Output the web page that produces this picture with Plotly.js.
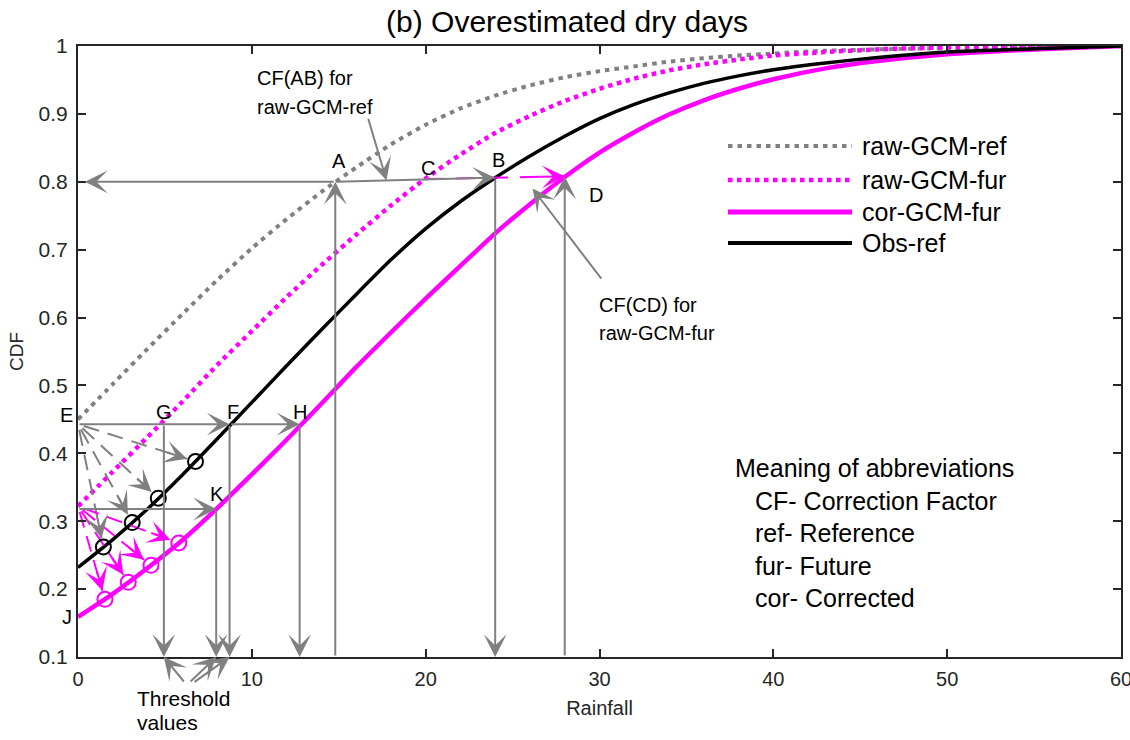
<!DOCTYPE html>
<html>
<head>
<meta charset="utf-8">
<script src="https://cdn.plot.ly/plotly-3.0.1.min.js"></script>
<style>html,body{margin:0;padding:0;background:#fff;}</style>
</head>
<body>
<div id="chart" style="width:1130px;height:740px;"></div>
<script>
// ---- CDF curves (rainfall grid, cumulative probability) ----
const rainfall  = [0, 2, 4, 6, 8, 10, 12, 14, 16, 18, 20, 22, 24, 26, 28, 30, 32, 34, 36, 38, 40, 43, 46, 50, 55, 60];
const rawGcmRef = [0.450, 0.502, 0.554, 0.605, 0.655, 0.702, 0.745, 0.785, 0.821, 0.855, 0.884, 0.908, 0.927, 0.942, 0.954, 0.963, 0.970, 0.977, 0.982, 0.986, 0.989, 0.993, 0.995, 0.997, 0.999, 1.000];
const rawGcmFur = [0.322, 0.373, 0.424, 0.476, 0.530, 0.580, 0.630, 0.677, 0.722, 0.765, 0.805, 0.840, 0.872, 0.897, 0.919, 0.937, 0.952, 0.964, 0.973, 0.980, 0.986, 0.991, 0.995, 0.998, 0.999, 1.000];
const corGcmFur = [0.159, 0.193, 0.231, 0.272, 0.319, 0.369, 0.420, 0.473, 0.527, 0.578, 0.628, 0.676, 0.724, 0.767, 0.807, 0.843, 0.873, 0.899, 0.920, 0.937, 0.951, 0.967, 0.978, 0.988, 0.995, 1.000];
const obsRef    = [0.232, 0.273, 0.318, 0.368, 0.421, 0.475, 0.529, 0.582, 0.634, 0.685, 0.731, 0.771, 0.806, 0.838, 0.867, 0.893, 0.914, 0.931, 0.945, 0.956, 0.965, 0.975, 0.983, 0.991, 0.996, 1.000];

// ---- labelled points of the mapping ----
const pointNames = ['A', 'B', 'C', 'D', 'E', 'F', 'G', 'H', 'K', 'J'];
const pointRain  = [14.8, 24.0, 19.9, 28.0, 0, 8.72, 4.94, 12.75, 7.95, 0];
const pointCdf   = [0.800, 0.806, 0.804, 0.808, 0.443, 0.443, 0.443, 0.443, 0.318, 0.159];
const fanStartCor = [0, 0.322];     // start of the raw-GCM-fur curve

// ---- threshold circles ----
const obsCircleRain = [1.46, 3.12, 4.62, 6.76];
const obsCircleCdf  = [0.262, 0.298, 0.334, 0.388];
const corCircleRain = [1.55, 2.89, 4.20, 5.80];
const corCircleCdf  = [0.185, 0.210, 0.235, 0.268];

// ---- text ----
const titleText = '(b) Overestimated dry days';
const xTitle = 'Rainfall';
const yTitle = 'CDF';
const seriesNames = ['raw-GCM-ref', 'raw-GCM-fur', 'cor-GCM-fur', 'Obs-ref'];
const cfAbLines = ['CF(AB) for', 'raw-GCM-ref'];
const cfCdLines = ['CF(CD) for', 'raw-GCM-fur'];
const thresholdLines = ['Threshold', 'values'];
const abbrevLines = ['Meaning of abbreviations', 'CF- Correction Factor', 'ref- Reference', 'fur- Future', 'cor- Corrected'];

// ---- layout geometry ----
const W = 1130, H = 740, M = {l: 78, r: 9, t: 46, b: 83};
const XR = [0, 60], YR = [0.1, 1];
const sx = (W - M.l - M.r) / (XR[1] - XR[0]);
const sy = (H - M.t - M.b) / (YR[1] - YR[0]);
const px = v => (v - M.l) / (W - M.l - M.r);        // page x -> paper
const py = v => (H - M.b - v) / (H - M.t - M.b);    // page y -> paper
// point d pixels back from (x1,y1) toward (x0,y0), in data units
function back(x0, y0, x1, y1, d) {
  const L = Math.hypot((x1 - x0) * sx, (y1 - y0) * sy);
  return [x1 - (x1 - x0) * d / L, y1 - (y1 - y0) * d / L];
}

const P = {};
pointNames.forEach((n, i) => { P[n] = [pointRain[i], pointCdf[i]]; });

const FONT = 'Liberation Sans, Arial, Helvetica, sans-serif';
const GRAY = '#808080', MAG = '#ff00ff';

// ---- traces ----
const traces = [
  {x: rainfall, y: rawGcmRef, mode: 'lines', name: seriesNames[0], line: {color: GRAY, width: 4, dash: '4.5px,5px', shape: 'spline', smoothing: 0.6}},
  {x: rainfall, y: rawGcmFur, mode: 'lines', name: seriesNames[1], line: {color: MAG, width: 4.5, dash: '4.5px,4.5px', shape: 'spline', smoothing: 0.6}},
  {x: rainfall, y: corGcmFur, mode: 'lines', name: seriesNames[2], line: {color: MAG, width: 4.5, shape: 'spline', smoothing: 0.6}},
  {x: rainfall, y: obsRef, mode: 'lines', name: seriesNames[3], line: {color: '#000', width: 3.5, shape: 'spline', smoothing: 0.6}}
];

const annotations = [];
const arrowBase = {text: '', showarrow: true, arrowhead: 3, arrowsize: 1.9, arrowwidth: 2, arrowcolor: GRAY,
                   xref: 'x', yref: 'y', axref: 'x', ayref: 'y', standoff: 0};
function arrow(head, tail, extra) {
  annotations.push(Object.assign({}, arrowBase, {x: head[0], y: head[1], ax: tail[0], ay: tail[1]}, extra || {}));
}
const axisAt = p => [p[0], YR[0]];

// solid grey mapping arrows
arrow([0.4, P.A[1]], P.A);            // A -> CDF axis
arrow(P.A, axisAt(P.A));              // rainfall axis -> A
arrow(P.B, P.A);                      // A -> B
arrow(axisAt(P.B), P.B);              // B -> rainfall axis
arrow(P.D, axisAt(P.D));              // rainfall axis -> D
arrow(P.F, P.E);                      // E -> F
arrow(P.H, P.F);                      // F -> H
arrow(axisAt(P.G), P.G);
arrow(axisAt(P.F), P.F);
arrow(axisAt(P.H), P.H);
arrow(P.K, [0, P.K[1]]);
arrow(axisAt(P.K), P.K);

// dashed C -> D (magenta)
traces.push({x: [P.C[0], P.D[0]], y: [P.C[1], P.D[1]], mode: 'lines', showlegend: false, hoverinfo: 'skip',
             line: {color: MAG, width: 2, dash: '20px,12px'}});
arrow(P.D, back(P.C[0], P.C[1], P.D[0], P.D[1], 26), {arrowcolor: MAG});

// dashed fans to the threshold circles
function fan(start, cx, cy, color) {
  cx.forEach((x, i) => {
    const tip = back(start[0], start[1], x, cy[i], 9);
    const s0 = back(x, cy[i], start[0], start[1], 6);
    traces.push({x: [s0[0], tip[0]], y: [s0[1], tip[1]], mode: 'lines', showlegend: false, hoverinfo: 'skip',
                 line: {color: color, width: 2, dash: '16px,9px'}});
    arrow(tip, back(start[0], start[1], tip[0], tip[1], 22), {arrowcolor: color});
  });
}
fan(P.E, obsCircleRain, obsCircleCdf, GRAY);
fan(fanStartCor, corCircleRain, corCircleCdf, MAG);

traces.push({x: obsCircleRain, y: obsCircleCdf, mode: 'markers', showlegend: false, hoverinfo: 'skip',
             marker: {symbol: 'circle-open', size: 15, color: '#000', line: {width: 2}}});
traces.push({x: corCircleRain, y: corCircleCdf, mode: 'markers', showlegend: false, hoverinfo: 'skip',
             marker: {symbol: 'circle-open', size: 15, color: MAG, line: {width: 2}}});

// pointers from the explanatory notes
arrow([17.75, 0.802], [16.67, 0.895]);
arrow([26.15, 0.790], [30.17, 0.655]);
const threshTailY = YR[0] - 26 / sy;
arrow(axisAt(P.G), [6.16, threshTailY]);
arrow(axisAt(P.K), [6.39, threshTailY]);
arrow(axisAt(P.F), [6.62, threshTailY]);

// point letters
const letterShift = {A: [4, 21], B: [3, 18], C: [4, 11], D: [31, -19], E: [-12, 9], F: [3, 12], G: [0, 12], H: [0, 12], K: [1, 15], J: [-11, 0]};
pointNames.forEach(n => {
  annotations.push({x: P[n][0], y: P[n][1], xref: 'x', yref: 'y', text: n, showarrow: false,
                    xshift: letterShift[n][0], yshift: letterShift[n][1], font: {family: FONT, size: 20, color: '#000'}});
});

// notes (page-pixel placement)
function note(text, x, y, size) {
  annotations.push({xref: 'paper', yref: 'paper', x: px(x), y: py(y), xanchor: 'left', yanchor: 'middle',
                    text: text, showarrow: false, font: {family: FONT, size: size, color: '#000'}});
}
note(cfAbLines[0], 255, 78, 20);
note(cfAbLines[1], 255, 107, 20);
note(cfCdLines[0], 597, 305, 20);
note(cfCdLines[1], 597, 333, 20);
note(thresholdLines[0], 135, 698, 21);
note(thresholdLines[1], 135, 723, 21);
note(abbrevLines[0], 733, 468, 25);
[1, 2, 3, 4].forEach(i => note(abbrevLines[i], 753, 468 + 32.5 * i, 25));

// legend
const legendRows = [146, 180, 212, 243];
const legendLines = [
  {color: GRAY, width: 4, dash: '4.5px,5px'},
  {color: MAG, width: 4.5, dash: '4.5px,4.5px'},
  {color: MAG, width: 5},
  {color: '#000', width: 4}
];
const shapes = [];
seriesNames.forEach((n, i) => {
  shapes.push({type: 'line', xref: 'paper', yref: 'paper', x0: px(728), x1: px(852), y0: py(legendRows[i]), y1: py(legendRows[i]), line: legendLines[i]});
  note(n, 860, legendRows[i], 25);
});

const axisCommon = {showgrid: false, zeroline: false, showline: true, linecolor: '#262626', linewidth: 2,
                    mirror: 'ticks', ticks: 'inside', ticklen: 8, tickwidth: 2, tickcolor: '#262626',
                    ticklabeloverflow: 'allow',
                    tickfont: {family: FONT, size: 20, color: '#262626'}};

const layout = {
  width: W, height: H, margin: M, paper_bgcolor: '#fff', plot_bgcolor: '#fff', showlegend: false,
  title: {text: titleText, x: 567 / W, xref: 'container', xanchor: 'center', y: 1 - 21 / H, yanchor: 'middle',
          font: {family: FONT, size: 30, color: '#000'}},
  xaxis: Object.assign({}, axisCommon, {range: XR, dtick: 10, tick0: 0, ticklabelstandoff: 3,
          title: {text: xTitle, standoff: 12, font: {family: FONT, size: 20, color: '#262626'}}}),
  yaxis: Object.assign({}, axisCommon, {range: YR, dtick: 0.1, tick0: 0.1, ticklabelstandoff: 4,
          tickfont: {family: FONT, size: 21, color: '#262626'},
          title: {text: yTitle, standoff: 10, font: {family: FONT, size: 19, color: '#262626'}}}),
  annotations: annotations,
  shapes: shapes
};

Plotly.newPlot('chart', traces, layout, {staticPlot: true});
</script>
</body>
</html>
